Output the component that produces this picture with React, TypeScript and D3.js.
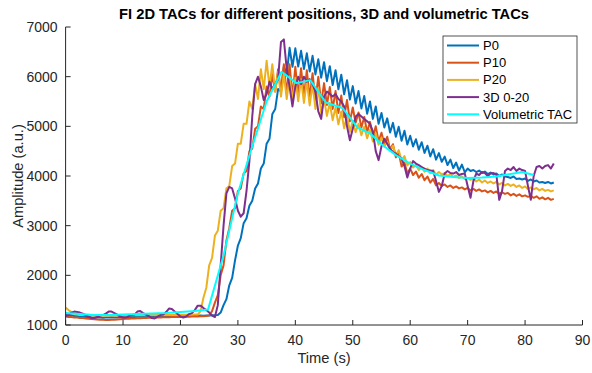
import React from 'react';
import * as d3 from 'd3';

const seriesNames = ['P0', 'P10', 'P20', '3D 0-20', 'Volumetric TAC'];
const seriesColors = ['#0072BD', '#D95319', '#EDB120', '#7E2F8E', '#00FFFF'];
const titleText = 'FI 2D TACs for different positions, 3D and volumetric TACs';
const xLabel = 'Time (s)';
const yLabel = 'Amplitude (a.u.)';
const xTicks = [0, 10, 20, 30, 40, 50, 60, 70, 80, 90];
const yTicks = [1000, 2000, 3000, 4000, 5000, 6000, 7000];

// sampled every 0.5 s from t = 0 to t = 85
const sampleStep = 0.5;

const p0 = [
  1200, 1190, 1195, 1180, 1175, 1165, 1170, 1160, 1165, 1155,
  1150, 1155, 1150, 1145, 1150, 1150, 1155, 1150, 1150, 1155,
  1160, 1155, 1160, 1165, 1160, 1165, 1165, 1170, 1165, 1170,
  1170, 1175, 1170, 1175, 1175, 1180, 1175, 1180, 1180, 1185,
  1180, 1185, 1180, 1185, 1185, 1190, 1185, 1190, 1185, 1190,
  1190, 1195, 1195, 1200, 1250, 1400, 1520, 1800, 1950, 2300,
  2600, 2750, 3050, 3150, 3400, 3500, 3750, 3850, 4150, 4250,
  4650, 4750, 5250, 5350, 5750, 5700, 6200, 6050, 6580, 6200,
  6570, 6205, 6520, 6155, 6470, 6105, 6420, 6045, 6350, 5980,
  6290, 5910, 6210, 5830, 6130, 5745, 6040, 5645, 5930, 5540,
  5810, 5460, 5710, 5360, 5610, 5255, 5500, 5150, 5400, 5050,
  5270, 4975, 5160, 4875, 5070, 4790, 4990, 4710, 4910, 4635,
  4810, 4595, 4740, 4530, 4680, 4465, 4610, 4395, 4540, 4330,
  4460, 4285, 4390, 4220, 4330, 4160, 4270, 4110, 4230, 4075,
  4150, 4100, 4120, 4080, 4110, 4060, 4090, 4040, 4070, 4030,
  4050, 4000, 4030, 3990, 3980, 3960, 3990, 3940, 3950, 3930,
  3950, 3900, 3930, 3890, 3910, 3870, 3880, 3860, 3880, 3850,
  3870,
];

const p10 = [
  1170, 1160, 1160, 1150, 1150, 1140, 1140, 1130, 1125, 1120,
  1115, 1110, 1105, 1105, 1100, 1100, 1105, 1105, 1110, 1115,
  1120, 1125, 1125, 1130, 1130, 1135, 1135, 1140, 1140, 1145,
  1145, 1150, 1150, 1150, 1155, 1155, 1155, 1160, 1160, 1160,
  1160, 1165, 1165, 1165, 1170, 1170, 1170, 1175, 1175, 1180,
  1190, 1280, 1450, 1600, 2000, 2200, 2700, 2950, 3300, 3350,
  3700, 3750, 4050, 4100, 4500, 4550, 4950, 5000, 5400, 5350,
  5800, 5600, 6050, 5700, 6150, 5700, 6250, 5650, 6250, 5600,
  6200, 5625, 6170, 5590, 6130, 5570, 6070, 5520, 6000, 5460,
  5870, 5430, 5790, 5350, 5710, 5270, 5620, 5185, 5530, 5100,
  5380, 5070, 5280, 4975, 5190, 4880, 5090, 4785, 5000, 4695,
  4870, 4650, 4790, 4535, 4640, 4375, 4470, 4190, 4270, 4050,
  4150, 4020, 4090, 3965, 4040, 3915, 3990, 3865, 3940, 3810,
  3860, 3800, 3830, 3780, 3810, 3760, 3790, 3750, 3770, 3730,
  3760, 3710, 3740, 3700, 3730, 3690, 3710, 3670, 3700, 3660,
  3690, 3640, 3670, 3640, 3660, 3610, 3640, 3600, 3630, 3590,
  3610, 3580, 3600, 3560, 3590, 3540, 3570, 3530, 3560, 3520,
  3540,
];

const p20 = [
  1350, 1300, 1260, 1230, 1215, 1210, 1200, 1200, 1195, 1195,
  1190, 1190, 1190, 1190, 1190, 1190, 1190, 1190, 1190, 1190,
  1190, 1195, 1190, 1195, 1195, 1195, 1195, 1200, 1195, 1200,
  1200, 1200, 1200, 1200, 1200, 1205, 1200, 1205, 1200, 1205,
  1200, 1205, 1205, 1210, 1205, 1210, 1210, 1280, 1550, 1750,
  2200, 2350, 2800, 2900, 3300, 3350, 3750, 3800, 4200, 4250,
  4650, 4650, 5050, 5050, 5500, 5350, 5850, 5550, 6150, 5750,
  6320, 5800, 6250, 5700, 6100, 5600, 6050, 5550, 6000, 5500,
  5980, 5505, 5950, 5470, 5910, 5420, 5850, 5350, 5770, 5265,
  5550, 5210, 5470, 5125, 5380, 5040, 5300, 4960, 5220, 4890,
  5110, 4880, 5050, 4820, 4990, 4760, 4930, 4695, 4860, 4630,
  4770, 4590, 4690, 4510, 4610, 4425, 4520, 4320, 4400, 4215,
  4280, 4170, 4220, 4120, 4180, 4085, 4150, 4055, 4120, 4030,
  4080, 4030, 4060, 4000, 4040, 3980, 4010, 3960, 3990, 3940,
  3960, 3920, 3950, 3890, 3930, 3870, 3910, 3860, 3890, 3850,
  3880, 3830, 3860, 3810, 3840, 3800, 3830, 3780, 3810, 3760,
  3790, 3740, 3770, 3730, 3760, 3710, 3740, 3700, 3720, 3690,
  3710,
];

const d3tac = [
  1180, 1200, 1250, 1270, 1260, 1250, 1230, 1200, 1170, 1140,
  1140, 1160, 1190, 1200, 1230, 1270, 1270, 1240, 1210, 1170,
  1150, 1150, 1180, 1200, 1210, 1270, 1280, 1240, 1210, 1180,
  1140, 1130, 1170, 1200, 1210, 1260, 1330, 1320, 1270, 1220,
  1170, 1150, 1170, 1220, 1240, 1300, 1390, 1390, 1340, 1300,
  1250, 1190, 1160, 1400, 2200, 3000, 3650, 3780, 3750, 3550,
  3300, 3180, 3250, 3700, 4300, 5200, 5850, 6000, 5800, 5530,
  5650, 5900, 5750, 5850, 5950, 6700, 6750, 6150, 5800, 5400,
  5800, 6000, 5850, 6000, 5900, 5950, 5850, 5700, 5300, 5150,
  5600, 5700, 5650, 5600, 5650, 5550, 5500, 5400, 5000, 4720,
  4950, 5200, 5250, 5200, 5150, 5100, 5050, 4900, 4500, 4320,
  4600, 4750, 4650, 4550, 4480, 4450, 4400, 4350, 4200, 3970,
  4150, 4300, 4250, 4220, 4180, 4150, 4120, 4110, 4100, 3900,
  3680, 3800, 4050, 4100, 4060, 4050, 4080, 4020, 4040, 4050,
  3800, 3560, 3900, 4050, 4020, 4080, 4060, 4000, 4050, 4060,
  4030, 3520, 3700, 4100, 4150, 4120, 4180, 4100, 4150, 4120,
  4100, 3800, 3520, 4000, 4180, 4200, 4150, 4200, 4220, 4150,
  4250,
];

const volTimes = [
  0, 2.5, 5, 7.5, 10, 12.5, 15, 17.5, 20, 22.5, 24.8, 27.5, 30, 32.5, 35,
  37.6, 40.2, 42.6, 45.3, 48.2, 50.8, 53, 55, 57.5, 60, 62.5, 65, 67.5, 70,
  72.5, 75, 77.5, 79.5, 81.5,
];
const volValues = [
  1240, 1220, 1200, 1200, 1210, 1220, 1230, 1240, 1260, 1280, 1310, 2400,
  3650, 4600, 5500, 6100, 5870, 5930, 5480, 5370, 4980, 4860, 4640, 4420,
  4250, 4120, 4010, 3980, 3960, 3970, 3990, 4040, 4080, 4020,
];

const FONT = '"Liberation Sans", Arial, Helvetica, sans-serif';
const AXIS_COLOR = '#262626';

export default function App() {
  const W = 592;
  const H = 373;
  const x = d3.scaleLinear().domain([0, 90]).range([65.6, 582.5]);
  const y = d3.scaleLinear().domain([1000, 7000]).range([325, 27]);
  const line = d3
    .line<[number, number]>()
    .x((d) => x(d[0]))
    .y((d) => y(d[1]));

  const sampled = [p0, p10, p20, d3tac].map((vals) =>
    vals.map((v, i) => [i * sampleStep, v] as [number, number])
  );
  const vol = volTimes.map((t, i) => [t, volValues[i]] as [number, number]);
  const allSeries = [...sampled, vol];

  const [x0, x1] = x.range();
  const [yb, yt] = y.range();

  const legX = 443;
  const legY = 36;
  const legW = 134;
  const legH = 87;
  const legStep = 17.2;

  return (
    <svg
      width={W}
      height={H}
      style={{ position: 'absolute', left: 0, top: 0, background: '#fff' }}
      fontFamily={FONT}
    >
      <rect x={0} y={0} width={W} height={H} fill="#fff" />
      <defs>
        <clipPath id="plotclip">
          <rect x={x0} y={yt} width={x1 - x0} height={yb - yt} />
        </clipPath>
      </defs>

      <g clipPath="url(#plotclip)">
        {allSeries.map((s, i) => (
          <path
            key={i}
            d={line(s) || ''}
            fill="none"
            stroke={seriesColors[i]}
            strokeWidth={2}
            strokeLinejoin="round"
          />
        ))}
      </g>

      <line x1={x0} x2={x1} y1={yb} y2={yb} stroke={AXIS_COLOR} strokeWidth={1} />
      <line x1={x0} x2={x0} y1={yb} y2={yt} stroke={AXIS_COLOR} strokeWidth={1} />
      {xTicks.map((t) => (
        <g key={'xt' + t}>
          <line x1={x(t)} x2={x(t)} y1={yb} y2={yb - 5} stroke={AXIS_COLOR} />
          <text
            x={x(t)}
            y={yb + 20}
            textAnchor="middle"
            fontSize={14}
            fill={AXIS_COLOR}
          >
            {t}
          </text>
        </g>
      ))}
      {yTicks.map((t) => (
        <g key={'yt' + t}>
          <line x1={x0} x2={x0 + 5} y1={y(t)} y2={y(t)} stroke={AXIS_COLOR} />
          <text
            x={x0 - 8}
            y={y(t) + 5}
            textAnchor="end"
            fontSize={14}
            fill={AXIS_COLOR}
          >
            {t}
          </text>
        </g>
      ))}

      <text
        x={(x0 + x1) / 2}
        y={363}
        textAnchor="middle"
        fontSize={14.7}
        fill={AXIS_COLOR}
      >
        {xLabel}
      </text>
      <text
        transform={`translate(23, ${(yb + yt) / 2}) rotate(-90)`}
        textAnchor="middle"
        fontSize={14.7}
        fill={AXIS_COLOR}
      >
        {yLabel}
      </text>
      <text
        x={(x0 + x1) / 2}
        y={19}
        textAnchor="middle"
        fontSize={14.7}
        fontWeight="bold"
        fill="#000"
      >
        {titleText}
      </text>

      <rect
        x={legX}
        y={legY}
        width={legW}
        height={legH}
        fill="#fff"
        stroke={AXIS_COLOR}
        strokeWidth={0.8}
      />
      {seriesNames.map((name, i) => {
        const cy = legY + 9.5 + i * legStep;
        return (
          <g key={name}>
            <line
              x1={legX + 4}
              x2={legX + 36}
              y1={cy}
              y2={cy}
              stroke={seriesColors[i]}
              strokeWidth={2}
            />
            <text x={legX + 40} y={cy + 4.5} fontSize={13} fill="#000">
              {name}
            </text>
          </g>
        );
      })}
    </svg>
  );
}
